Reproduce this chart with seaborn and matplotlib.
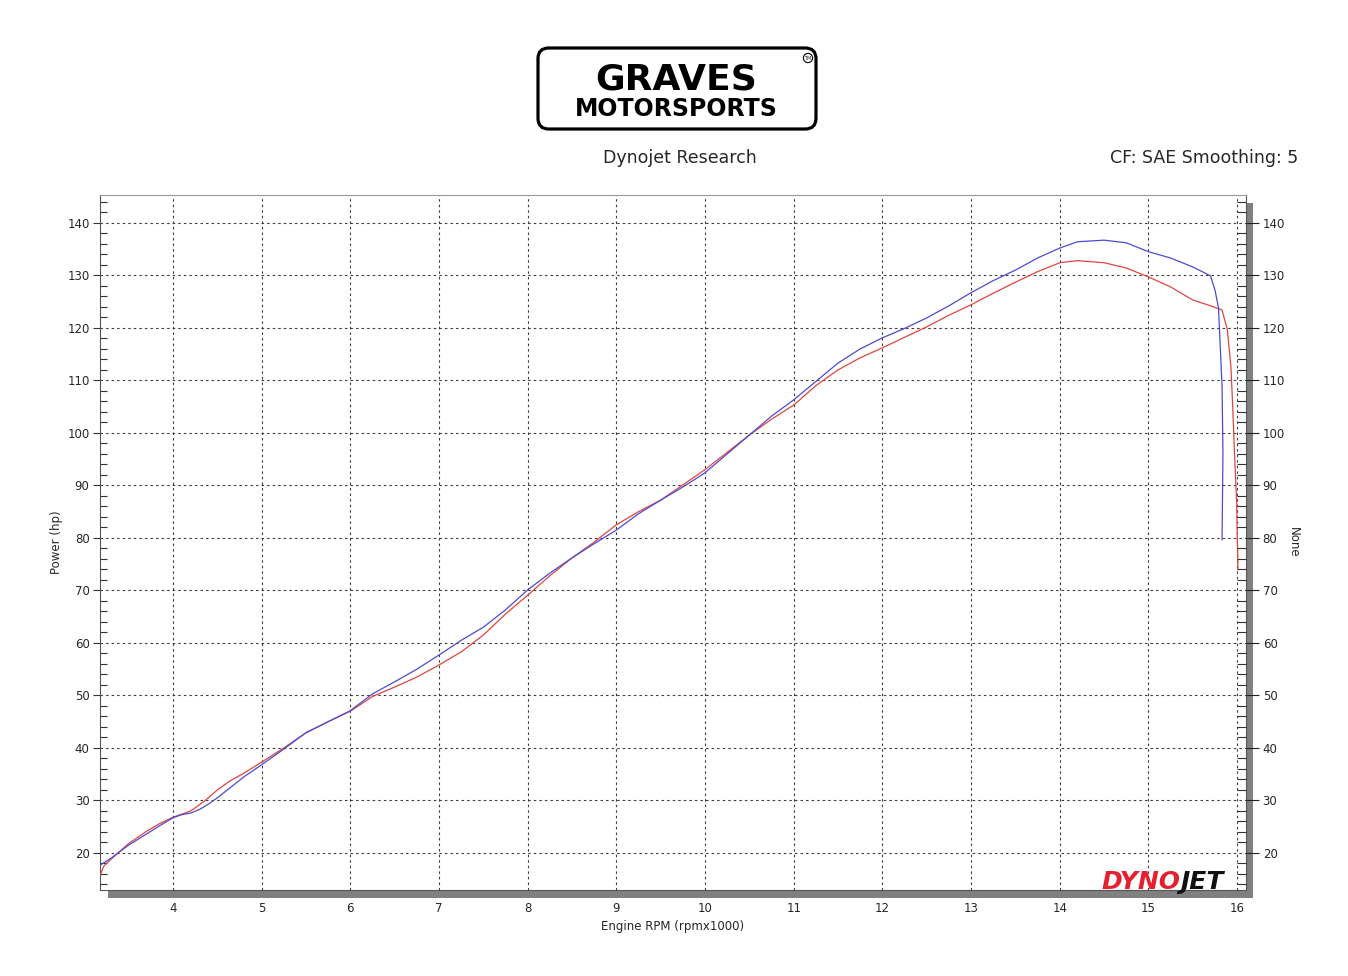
import matplotlib
matplotlib.use("Agg")
import matplotlib.pyplot as plt
import seaborn as sns
import pandas as pd
from matplotlib.patches import Rectangle, FancyBboxPatch
from matplotlib.ticker import MultipleLocator

# run 1 (blue) and run 2 (red), engine rpm x1000 vs power hp
rpm_blue = [3.18, 3.3, 3.38, 3.5, 3.7, 3.85, 4.0, 4.1, 4.2, 4.3, 4.4, 4.5, 4.65, 4.8,
            5.0, 5.25, 5.5, 5.75, 6.0, 6.25, 6.5, 6.75, 7.0, 7.25, 7.5, 7.75, 8.0,
            8.25, 8.5, 8.75, 9.0, 9.25, 9.5, 9.75, 10.0, 10.25, 10.5, 10.75, 11.0,
            11.25, 11.5, 11.75, 12.0, 12.25, 12.5, 12.75, 13.0, 13.25, 13.5, 13.75,
            14.0, 14.2, 14.5, 14.75, 15.0, 15.25, 15.5, 15.7, 15.75, 15.79, 15.83,
            15.84, 15.83]
hp_blue = [17.7, 19.0, 20.0, 21.5, 23.6, 25.2, 26.7, 27.3, 27.6, 28.3, 29.3, 30.5, 32.5, 34.5,
           36.8, 39.8, 42.9, 45.0, 47.1, 50.3, 52.6, 55.0, 57.7, 60.5, 63.0, 66.3, 70.1,
           73.3, 76.2, 78.9, 81.5, 84.6, 87.2, 89.7, 92.4, 96.0, 99.6, 103.2, 106.3,
           109.8, 113.3, 116.0, 118.1, 119.9, 121.9, 124.2, 126.7, 129.0, 131.0, 133.3,
           135.2, 136.4, 136.7, 136.2, 134.5, 133.3, 131.6, 129.9, 127.2, 123.8, 108.8,
           96.2, 79.6]

rpm_red = [3.18, 3.22, 3.3, 3.38, 3.5, 3.7, 3.85, 4.0, 4.2, 4.35, 4.5, 4.65, 4.8, 5.0,
           5.25, 5.5, 5.75, 6.0, 6.25, 6.5, 6.75, 7.0, 7.25, 7.5, 7.75, 8.0, 8.25, 8.5,
           8.75, 9.0, 9.25, 9.5, 9.75, 10.0, 10.25, 10.5, 10.75, 11.0, 11.25, 11.5,
           11.75, 12.0, 12.25, 12.5, 12.75, 13.0, 13.25, 13.5, 13.75, 14.0, 14.2, 14.5,
           14.75, 15.0, 15.25, 15.5, 15.7, 15.83, 15.89, 15.93, 15.95, 15.97, 15.995,
           16.0, 16.01]
hp_red = [15.8, 17.5, 18.8, 20.0, 21.8, 24.1, 25.6, 26.8, 28.0, 29.8, 32.0, 33.8, 35.2, 37.3,
          40.0, 42.9, 45.0, 47.0, 49.8, 51.6, 53.5, 55.8, 58.3, 61.5, 65.5, 69.1, 72.8, 76.2,
          79.2, 82.5, 85.0, 87.2, 90.1, 93.0, 96.3, 99.6, 102.6, 105.3, 109.0, 112.0,
          114.3, 116.2, 118.2, 120.2, 122.4, 124.4, 126.6, 128.7, 130.7, 132.4, 132.8, 132.4,
          131.4, 129.7, 127.8, 125.3, 124.2, 123.4, 119.6, 112.6, 105.0, 96.2, 86.7,
          81.5, 73.9]

sns.set_style("white")
plt.rcParams["font.family"] = ["DejaVu Sans"]

W, H = 1348, 976
fig = plt.figure(figsize=(W / 100, H / 100), dpi=100)


def fx(x):
    return x / W


def fy(y):
    return 1 - y / H


ax = fig.add_axes([fx(100), fy(890), fx(1246) - fx(100), fy(195) - fy(890)])

blue = pd.DataFrame({"rpm": rpm_blue, "hp": hp_blue})
red = pd.DataFrame({"rpm": rpm_red, "hp": hp_red})
sns.lineplot(data=blue, x="rpm", y="hp", sort=False, estimator=None, color="#4b4bd2", lw=0.9, ax=ax, zorder=4)
sns.lineplot(data=red, x="rpm", y="hp", sort=False, estimator=None, color="#e0443f", lw=0.9, ax=ax, zorder=3)

ax.set_xlim(3.177, 16.10)
ax.set_ylim(12.95, 145.3)
ax.xaxis.set_major_locator(MultipleLocator(1))
ax.xaxis.set_minor_locator(MultipleLocator(0.2))
ax.yaxis.set_major_locator(MultipleLocator(10))
ax.yaxis.set_minor_locator(MultipleLocator(2))
ax.set_yticks(range(20, 141, 10))
ax.grid(True, which="major", color="#3a3a3a", lw=0.8, linestyle=(0, (2.2, 2.8)))

ax.tick_params(axis="both", which="major", direction="out", length=5, width=0.8,
               color="#333333", labelsize=8.5, pad=2.5)
ax.tick_params(axis="both", which="minor", direction="in", length=5, width=0.8, color="#333333")
ax.tick_params(axis="x", which="major", pad=4)

for s in ax.spines.values():
    s.set_color("#555555")
    s.set_linewidth(0.8)
ax.spines["top"].set_color("#999999")

ax.set_xlabel("Engine RPM (rpmx1000)", fontsize=8.5, labelpad=3)
ax.set_ylabel("Power (hp)", fontsize=8.5, labelpad=3)

ax2 = ax.twinx()
ax2.set_ylim(ax.get_ylim())
ax2.yaxis.set_major_locator(MultipleLocator(10))
ax2.yaxis.set_minor_locator(MultipleLocator(2))
ax2.set_yticks(range(20, 141, 10))
ax2.tick_params(axis="y", which="major", direction="out", length=9, width=0.8,
                color="#222222", labelsize=8.5, pad=3)
ax2.tick_params(axis="y", which="minor", direction="in", length=6.5, width=0.8, color="#333333")
for s in ax2.spines.values():
    s.set_visible(False)
ax2.set_ylabel("None", rotation=270, fontsize=8.5, labelpad=11)

# grey drop shadow along the bottom and right edges
fig.add_artist(Rectangle((fx(108), fy(898)), fx(1253) - fx(108), fy(891) - fy(898),
                         color="#808080", lw=0, zorder=0))
fig.add_artist(Rectangle((fx(1246), fy(898)), fx(1253) - fx(1246), fy(203) - fy(898),
                         color="#808080", lw=0, zorder=0))

# header texts
fig.text(fx(680), fy(158), "Dynojet Research", ha="center", va="center", fontsize=12.5)
fig.text(fx(1298), fy(158), "CF: SAE Smoothing: 5", ha="right", va="center", fontsize=12.5)

# Graves Motorsports logo
fig.add_artist(FancyBboxPatch((fx(538), fy(129)), fx(816) - fx(538), fy(48) - fy(129),
                              boxstyle="round,pad=0,rounding_size=0.008",
                              mutation_aspect=W / H, fc="white", ec="black", lw=2.3))
fig.text(fx(676), fy(89), "GRAVES", ha="center", va="baseline", fontsize=26,
         fontweight="heavy", color="black")
fig.text(fx(676), fy(116), "MOTORSPORTS", ha="center", va="baseline", fontsize=17,
         fontweight="heavy", color="black")
fig.text(fx(808), fy(58), "TM", ha="center", va="center", fontsize=3.5,
         bbox=dict(boxstyle="circle,pad=0.2", fc="white", ec="black", lw=0.8))

# Dynojet logo
fig.text(fx(1180), fy(882), "DYNO", ha="right", va="center", fontsize=18,
         fontweight="heavy", fontstyle="italic", color="#e5202e", zorder=6)
fig.text(fx(1180), fy(882), "JET", ha="left", va="center", fontsize=18,
         fontweight="heavy", fontstyle="italic", color="#111111", zorder=6)

fig.savefig("out.png", dpi=100)
